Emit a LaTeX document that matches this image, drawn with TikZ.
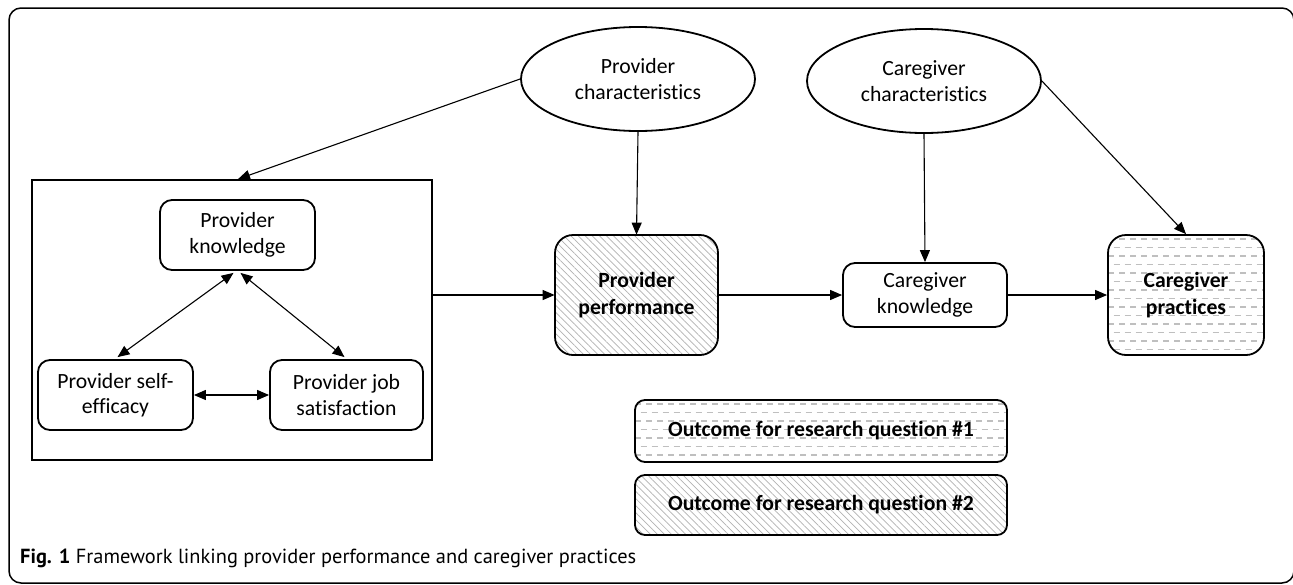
\documentclass[tikz,border=0pt]{standalone}
\usepackage{fontspec}
\setmainfont{Carlito}[Ligatures={NoCommon}]
\newfontfamily\capfont{PT Sans}
\usetikzlibrary{shapes.geometric,arrows.meta,patterns.meta,calc}
\tikzset{
  every node/.style={font=\fontsize{21.7}{25.5}\selectfont, align=center, inner sep=0pt},
  box/.style={draw, line width=1.8pt, rounded corners=12pt},
  bigbox/.style={draw, line width=1.8pt, rounded corners=18pt, font=\fontsize{21.7}{26.5}\selectfont\bfseries},
  oval/.style={draw, ellipse, line width=1.8pt, minimum width=234pt, minimum height=104pt},
  hatch/.style={pattern={Lines[angle=135,distance=5pt,line width=0.7pt]}, pattern color=gray!60},
  dashfill/.style={path picture={
    \foreach \k in {0,...,16}{
      \pgfmathsetmacro{\ph}{mod(\k,2)*5.5}
      \draw[gray!50, line width=1.3pt, dash pattern=on 6pt off 5pt, dash phase=\ph pt]
        ([yshift=-4pt-\k*8.5pt]path picture bounding box.north west) --
        ([yshift=-4pt-\k*8.5pt]path picture bounding box.north east);
    }}},
  arr/.style={line width=1.1pt, -{Triangle[length=12pt,width=10pt]}},
  darr/.style={line width=1.1pt, {Triangle[length=12pt,width=10pt]}-{Triangle[length=12pt,width=10pt]}},
}
\begin{document}
\begin{tikzpicture}[x=1pt,y=-1pt]
\useasboundingbox (0,0) rectangle (1293,584);
\clip (0,0) rectangle (1293,584);
\fill[white] (0,0) rectangle (1293,584);
% outer frame
\draw[line width=1.5pt, rounded corners=12pt] (9,8) rectangle (1294,583);

% ellipses
\node[oval] (pchar) at (638,79) {Provider\\characteristics};
\node[oval] (cchar) at (924,81) {Caregiver\\characteristics};

% group box
\node[draw, line width=1.8pt, minimum width=400pt, minimum height=280pt] (group) at (232,320) {};
\node[box, minimum width=155pt, minimum height=70pt] (pknow) at (237.5,235) {Provider\\knowledge};
\node[box, minimum width=155pt, minimum height=70pt] (pself) at (115.5,395) {Provider self-\\efficacy};
\node[box, minimum width=153pt, minimum height=70pt] (pjob) at (346.5,395) {Provider job\\satisfaction};

% main chain
\node[bigbox, hatch, minimum width=163pt, minimum height=120pt] (pperf) at (636.5,295) {Provider\\performance};
\node[box, minimum width=164pt, minimum height=64pt] (cknow) at (925,295) {Caregiver\\knowledge};
\node[bigbox, dashfill, minimum width=156pt, minimum height=120pt] (cprac) at (1186,295) {Caregiver\\practices};

% legend
\node[box, rounded corners=10pt, dashfill, minimum width=372pt, minimum height=62pt, font=\fontsize{21.7}{25.5}\selectfont\bfseries] (leg1) at (821,431) {Outcome for research question \#1};
\node[box, rounded corners=10pt, hatch, minimum width=372pt, minimum height=60pt, font=\fontsize{21.7}{25.5}\selectfont\bfseries] (leg2) at (821,505) {Outcome for research question \#2};

% connectors
\draw[arr] (pchar.west) -- ([xshift=6pt]group.north);
\draw[arr] (pchar.south) -- (pperf.north);
\draw[arr] (cchar.south) -- (cknow.north);
\draw[arr] (cchar.east) -- (cprac.north);
\draw[arr] (group.east |- pperf.west) -- (pperf.west);
\draw[arr] (pperf.east) -- (cknow.west);
\draw[arr] (cknow.east) -- (cprac.west);
\draw[darr] ([xshift=-4pt,yshift=-2pt]pknow.south) -- ([xshift=2pt,yshift=2pt]pself.north);
\draw[darr] ([xshift=3pt,yshift=-2pt]pknow.south) -- ([xshift=-2pt,yshift=2pt]pjob.north);
\draw[darr] (pself.east) -- (pjob.west);

% caption
\node[anchor=west, font=\capfont\fontsize{20.4}{24}\selectfont] (cap) at (20,558) {\textbf{Fig. 1} Framework linking provider performance and caregiver practices};
\end{tikzpicture}
\end{document}
